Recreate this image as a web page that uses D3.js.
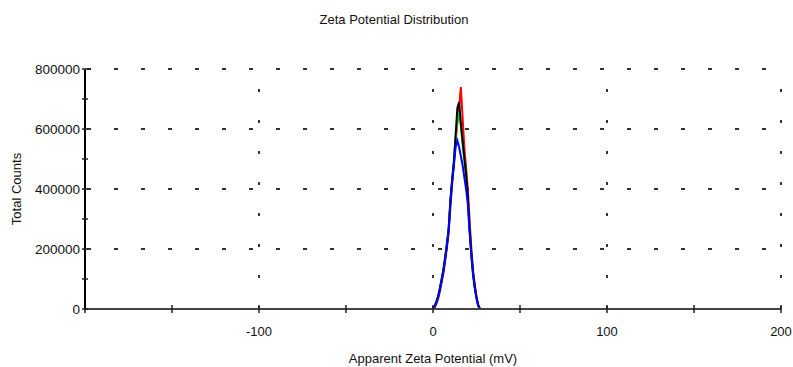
<!DOCTYPE html>
<html>
<head>
<meta charset="utf-8">
<script src="https://cdn.jsdelivr.net/npm/d3@7"></script>
<style>
  body { margin: 0; background: #fff; }
  text { font-family: "Liberation Sans", Arial, sans-serif; fill: #111; }
</style>
</head>
<body>
<script>
// zeta potential (mV) sample points
var potential = [0, 1, 2, 3, 4, 5, 6, 7, 8, 9, 10, 11, 12, 13, 14, 15, 16, 17, 18, 19, 20, 21, 22, 23, 24, 25, 26, 27];

// total counts per run
var runRed = [0, 5000, 18000, 35000, 60000, 90000, 120000, 160000, 205000, 255000, 340000, 415000, 480000, 560000, 620000, 670000, 740000, 640000, 540000, 470000, 400000, 300000, 205000, 130000, 80000, 42000, 15000, 0];
var runGreen = [0, 12000, 27000, 45000, 72000, 102000, 133000, 175000, 220000, 275000, 365000, 435000, 495000, 570000, 630000, 658000, 610000, 550000, 495000, 440000, 370000, 265000, 185000, 118000, 72000, 36000, 10000, 0];
var runBlack = [0, 10000, 25000, 43000, 70000, 100000, 130000, 170000, 215000, 265000, 360000, 430000, 490000, 580000, 670000, 690000, 620000, 560000, 505000, 450000, 380000, 270000, 190000, 120000, 75000, 38000, 12000, 0];
var runBlue = [0, 8000, 22000, 40000, 66000, 96000, 128000, 168000, 212000, 262000, 355000, 425000, 480000, 540000, 561000, 540000, 510000, 480000, 440000, 400000, 350000, 260000, 180000, 115000, 70000, 35000, 10000, 0];

var xTicks = [-100, 0, 100, 200];
var xMinor = [-200, -150, -100, -50, 0, 50, 100, 150, 200];
var yTicks = [0, 200000, 400000, 600000, 800000];
var yMinor = [0, 100000, 200000, 300000, 400000, 500000, 600000, 700000, 800000];

var width = 793, height = 367;
var margin = {top: 69, right: 12, bottom: 58, left: 85};

var svg = d3.select("body").append("svg")
    .attr("width", width)
    .attr("height", height);

var x = d3.scaleLinear().domain([-200, 200]).range([margin.left, width - margin.right]);
var y = d3.scaleLinear().domain([0, 800000]).range([height - margin.bottom, margin.top]);

// dotted grid
svg.append("g")
    .selectAll("line")
    .data(yTicks.slice(1))
    .enter().append("line")
    .attr("x1", x(-200) + 2)
    .attr("x2", x(200))
    .attr("y1", function (d) { return y(d); })
    .attr("y2", function (d) { return y(d); })
    .attr("stroke", "#333")
    .attr("stroke-width", 2)
    .attr("stroke-dasharray", "4,23");

svg.append("g")
    .selectAll("line")
    .data(xTicks)
    .enter().append("line")
    .attr("x1", function (d) { return x(d); })
    .attr("x2", function (d) { return x(d); })
    .attr("y1", y(0))
    .attr("y2", y(800000))
    .attr("stroke", "#333")
    .attr("stroke-width", 2)
    .attr("stroke-dasharray", "3,28");

// curves
var line = d3.line()
    .x(function (d) { return x(d[0]); })
    .y(function (d) { return y(d[1]); });

var runs = [
    {values: runRed, color: "#ff0000"},
    {values: runGreen, color: "#00e000"},
    {values: runBlack, color: "#000000"},
    {values: runBlue, color: "#0000ff"}
];

svg.append("g")
    .selectAll("path")
    .data(runs)
    .enter().append("path")
    .attr("d", function (r) { return line(d3.zip(potential, r.values)); })
    .attr("fill", "none")
    .attr("stroke", function (r) { return r.color; })
    .attr("stroke-width", 2);

// axes
var xAxis = svg.append("g")
    .attr("transform", "translate(0," + y(0) + ")");
xAxis.append("line")
    .attr("x1", x(-200)).attr("x2", x(200))
    .attr("stroke", "#444").attr("stroke-width", 2);
xAxis.selectAll(".tk")
    .data(xMinor)
    .enter().append("line")
    .attr("x1", function (d) { return x(d); })
    .attr("x2", function (d) { return x(d); })
    .attr("y1", -4).attr("y2", 4)
    .attr("stroke", "#222").attr("stroke-width", 1.5);
xAxis.selectAll("text")
    .data(xTicks)
    .enter().append("text")
    .attr("x", function (d) { return x(d); })
    .attr("y", 27)
    .attr("text-anchor", "middle")
    .style("font-size", "13px")
    .text(function (d) { return d; });

var yAxis = svg.append("g")
    .attr("transform", "translate(" + x(-200) + ",0)");
yAxis.append("line")
    .attr("y1", y(0)).attr("y2", y(800000))
    .attr("stroke", "#000").attr("stroke-width", 2);
yAxis.selectAll(".tk")
    .data(yMinor)
    .enter().append("line")
    .attr("y1", function (d) { return y(d); })
    .attr("y2", function (d) { return y(d); })
    .attr("x1", -3).attr("x2", function (d) { return d === 800000 ? 6 : 3; })
    .attr("stroke", "#222").attr("stroke-width", 1.5);
yAxis.selectAll("text")
    .data(yTicks)
    .enter().append("text")
    .attr("x", -5)
    .attr("y", function (d) { return y(d); })
    .attr("dy", "0.35em")
    .attr("text-anchor", "end")
    .style("font-size", "13.5px")
    .text(function (d) { return d; });

// titles
svg.append("text")
    .attr("x", 394).attr("y", 24)
    .attr("text-anchor", "middle")
    .style("font-size", "13px")
    .text("Zeta Potential Distribution");

svg.append("text")
    .attr("x", x(0)).attr("y", 363)
    .attr("text-anchor", "middle")
    .style("font-size", "13px")
    .text("Apparent Zeta Potential (mV)");

svg.append("text")
    .attr("transform", "translate(21," + y(400000) + ") rotate(-90)")
    .attr("text-anchor", "middle")
    .style("font-size", "13px")
    .text("Total Counts");
</script>
</body>
</html>
